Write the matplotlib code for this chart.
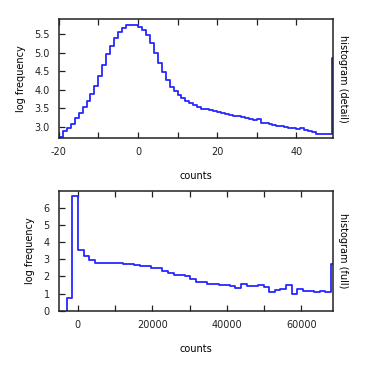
import numpy as np
import matplotlib
matplotlib.use("Agg")
import matplotlib.pyplot as plt
from matplotlib.ticker import MultipleLocator, FuncFormatter, FixedLocator

# detail histogram: bins of width 1 starting at -20
detail_start = -20
detail_vals = [2.73, 2.89, 2.96, 3.09, 3.25, 3.38, 3.54, 3.70, 3.88, 4.10,
               4.37, 4.66, 4.95, 5.18, 5.38, 5.55, 5.65, 5.73, 5.75, 5.75,
               5.70, 5.61, 5.46, 5.25, 5.00, 4.73, 4.48, 4.26, 4.08, 3.97,
               3.85, 3.77, 3.70, 3.65, 3.59, 3.53, 3.49, 3.48, 3.46, 3.43,
               3.39, 3.36, 3.35, 3.32, 3.30, 3.29, 3.27, 3.24, 3.21, 3.18,
               3.21, 3.11, 3.11, 3.08, 3.06, 3.03, 3.02, 3.00, 2.97, 2.97,
               2.93, 2.96, 2.91, 2.88, 2.86, 2.82, 2.80, 2.80, 2.80, 4.86]

# full histogram
full_start = -3000
full_width = 1510
full_vals = [0.76, 6.68, 3.52, 3.17, 2.97, 2.80, 2.80, 2.76, 2.76, 2.76,
             2.73, 2.73, 2.68, 2.60, 2.60, 2.49, 2.49, 2.33, 2.19, 2.09,
             2.09, 2.03, 1.86, 1.70, 1.70, 1.57, 1.57, 1.51, 1.51, 1.43,
             1.35, 1.55, 1.45, 1.45, 1.51, 1.37, 1.11, 1.21, 1.27, 1.51,
             0.98, 1.29, 1.17, 1.17, 1.11, 1.17, 1.11, 2.72]

full_yticks = [0, 1, 2, 3, 4, 5, 6]

line_color = "#2828ff"

fig = plt.figure(figsize=(3.7, 3.68), dpi=100)
ax1 = fig.add_axes([0.159, 0.625, 0.741, 0.323])
ax2 = fig.add_axes([0.159, 0.156, 0.741, 0.325])

def step_plot(ax, start, width, vals):
    edges = start + width * np.arange(len(vals) + 1)
    xs = np.repeat(edges, 2)
    ys = np.concatenate([[0], np.repeat(vals, 2), [0]])
    ax.plot(xs, ys, color=line_color, lw=1.3)

step_plot(ax1, detail_start, 1, detail_vals)
step_plot(ax2, full_start, full_width, full_vals)

ax1.set_xlim(-20, 49.3)
ax1.set_ylim(2.7, 5.9)
ax2.set_xlim(-5100, 68500)
ax2.set_ylim(0, 7)

ax1.xaxis.set_major_locator(MultipleLocator(10))
ax1.xaxis.set_major_formatter(FuncFormatter(lambda v, p: "%d" % v if round(v) % 20 == 0 else ""))
ax1.yaxis.set_major_locator(MultipleLocator(0.5))
ax1.yaxis.set_major_formatter(FuncFormatter(lambda v, p: "%.1f" % v))
ax2.xaxis.set_major_locator(MultipleLocator(10000))
ax2.xaxis.set_major_formatter(FuncFormatter(lambda v, p: "%d" % v if round(v) % 20000 == 0 else ""))
ax2.yaxis.set_major_locator(FixedLocator(full_yticks))

fs = 7
for ax, rlab in ((ax1, "histogram (detail)"), (ax2, "histogram (full)")):
    ax.tick_params(direction="in", length=4, width=0.9, top=True, right=True,
                   labelsize=fs, pad=6.5, colors="#222222")
    for s in ax.spines.values():
        s.set_linewidth(1.1)
        s.set_color("#222222")
    ax.set_xlabel("counts", fontsize=fs, labelpad=10)
    ax.set_ylabel("log frequency", fontsize=fs, labelpad=6)
    r = ax.twinx()
    r.set_yticks([])
    for s in r.spines.values():
        s.set_visible(False)
    r.set_ylabel(rlab, fontsize=fs, rotation=270, labelpad=11)

fig.savefig("out.png", dpi=100)
